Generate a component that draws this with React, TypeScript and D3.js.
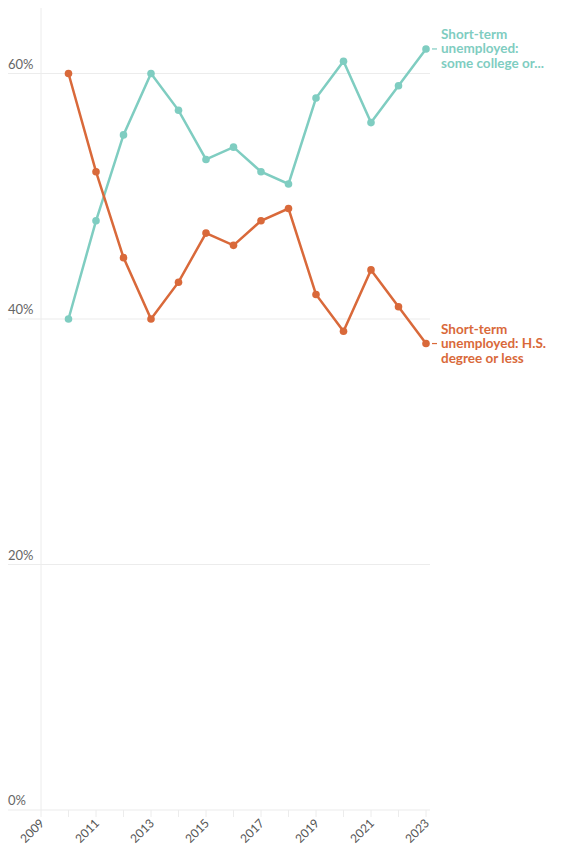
import * as d3 from 'd3';

const YEARS = [2010, 2011, 2012, 2013, 2014, 2015, 2016, 2017, 2018, 2019, 2020, 2021, 2022, 2023];
const COLLEGE = [40, 48, 55, 60, 57, 53, 54, 52, 51, 58, 61, 56, 59, 62];
const HIGH_SCHOOL = [60, 52, 45, 40, 43, 47, 46, 48, 49, 42, 39, 44, 41, 38];
const Y_TICKS = [0, 20, 40, 60];
const X_TICKS = [2009, 2011, 2013, 2015, 2017, 2019, 2021, 2023];

const SERIES = [
  { name: ['Short-term', 'unemployed:', 'some college or...'], values: COLLEGE, color: '#7fcdc1' },
  { name: ['Short-term', 'unemployed: H.S.', 'degree or less'], values: HIGH_SCHOOL, color: '#d9693a' },
];

const FONT = '"Source Sans Pro", Lato, "Noto Sans", sans-serif';

const App = () => {
  const width = 565;
  const height = 856;

  const x = d3.scaleLinear().domain([2009, 2023]).range([41, 426]);
  const y = d3.scaleLinear().domain([0, 60]).range([810, 73.5]);
  const top = 8;

  const line = d3
    .line<number>()
    .x((_, i) => x(YEARS[i]))
    .y(d => y(d));

  const allYears = d3.range(2009, 2024);

  return (
    <svg width={width} height={height} style={{ position: 'absolute', left: 0, top: 0 }}>
      {/* y axis line */}
      <line x1={x(2009)} x2={x(2009)} y1={top} y2={y(0)} stroke="#ececec" />
      {Y_TICKS.map(t => (
        <g key={`y${t}`}>
          <line x1={8} x2={430} y1={y(t)} y2={y(t)} stroke="#ececec" strokeWidth={1.2} />
          <text x={8} y={y(t) - 5} fontSize={13} fill="#666" fontFamily={FONT}>
            {t}%
          </text>
        </g>
      ))}
      {allYears.map(yr => (
        <line key={`t${yr}`} x1={x(yr)} x2={x(yr)} y1={y(0)} y2={y(0) + 7} stroke="#ececec" />
      ))}
      {X_TICKS.map(yr => (
        <text
          key={`x${yr}`}
          transform={`translate(${x(yr) + 4},${y(0) + 14}) rotate(-45)`}
          textAnchor="end"
          fontSize={12}
          fill="#555"
          fontFamily={FONT}
        >
          {yr}
        </text>
      ))}
      {SERIES.map(s => {
        const last = s.values[s.values.length - 1];
        const ly = y(last);
        return (
          <g key={s.name.join(' ')}>
            <path d={line(s.values) ?? ''} fill="none" stroke={s.color} strokeWidth={2.5} />
            {s.values.map((v, i) => (
              <circle key={i} cx={x(YEARS[i])} cy={y(v)} r={3.8} fill={s.color} />
            ))}
            <line x1={432} x2={437} y1={ly} y2={ly} stroke={s.color} strokeWidth={1.2} />
            <text fontSize={13.5} fontWeight="bold" fill={s.color} fontFamily={FONT}>
              {s.name.map((n, i) => (
                <tspan key={i} x={441} y={ly + 4.5 + (i - 1) * 14.5}>
                  {n}
                </tspan>
              ))}
            </text>
          </g>
        );
      })}
    </svg>
  );
};

export default App;
